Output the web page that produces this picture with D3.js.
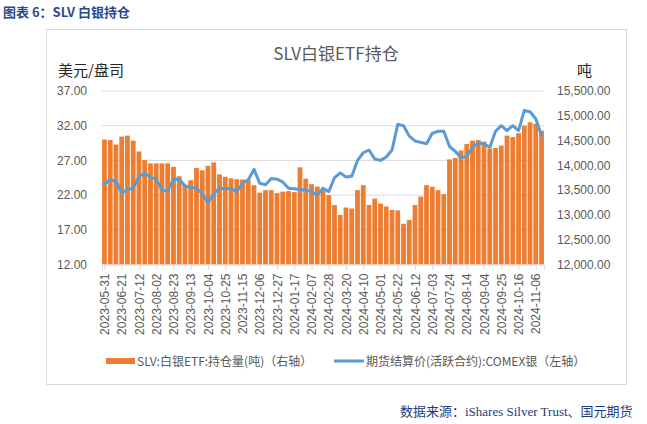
<!DOCTYPE html>
<html>
<head>
<meta charset="utf-8">
<script src="https://cdn.jsdelivr.net/npm/d3@7"></script>
<style>
  body { margin: 0; background: #fff; }
  svg { display: block; font-family: "Liberation Sans", "Noto Sans CJK SC", sans-serif; }
</style>
</head>
<body>
<svg width="647" height="424"></svg>
<script>
// weekly readings, first week = 2023-05-31
const startDate = new Date(2023, 4, 31);

// SLV holdings (tonnes), right axis
const holdings = [
  14520, 14510, 14420, 14580, 14600, 14500, 14280, 14110, 14040, 14040,
  14040, 14040, 13970, 13780, 13610, 13700, 13950, 13900, 13990, 14060,
  13820, 13770, 13740, 13720, 13715, 13705, 13600, 13450, 13500, 13500,
  13440, 13470, 13480, 13460, 13960, 13730, 13620, 13570, 13500, 13400,
  13200, 13000, 13150, 13130, 13500, 13600, 13200, 13330, 13230, 13170,
  13100, 13090, 12820, 12900, 13200, 13370, 13600, 13570, 13500, 13420,
  14120, 14150, 14300, 14430, 14500, 14510, 14480, 14340, 14350, 14400,
  14600, 14570, 14650, 14800, 14870, 14840, 14700
];

// COMEX silver settlement price (USD/oz), left axis
const price = [
  23.6, 24.2, 24.0, 22.3, 22.8, 23.0, 24.7, 25.1, 24.6, 24.3,
  22.7, 22.6, 24.3, 24.3, 23.3, 23.1, 23.0, 22.2, 20.9, 22.2,
  23.0, 22.9, 23.0, 22.5, 23.7, 24.2, 25.7, 23.7, 23.5, 24.4,
  24.3, 23.9, 23.0, 22.9, 22.8, 22.7, 22.5, 22.0, 23.0, 22.5,
  24.5, 25.2, 24.6, 24.7, 27.0, 28.1, 28.5, 27.2, 27.0, 27.5,
  28.5, 32.2, 32.0, 30.5, 29.8, 29.6, 29.4, 30.9, 31.2, 31.2,
  29.0, 28.3, 27.4, 27.6, 28.9, 29.5, 29.4, 28.9, 31.2, 32.0,
  31.3, 32.0, 31.3, 34.2, 34.0, 33.0, 30.6
];

const leftTicks = [12, 17, 22, 27, 32, 37];
const rightTicks = [12000, 12500, 13000, 13500, 14000, 14500, 15000, 15500];
const tickCount = 26;   // x labels every 21 days

const dates = holdings.map((d, i) => d3.timeDay.offset(startDate, 7 * i));
const tickDates = d3.range(tickCount).map(i => d3.timeDay.offset(startDate, 21 * i));

const svg = d3.select("svg");
const plot = { left: 102, right: 544, top: 91, bottom: 264.5 };
const grey = "#595959";

const x = d3.scaleTime()
  .domain([d3.timeDay.offset(startDate, -3), d3.timeDay.offset(startDate, 535)])
  .range([plot.left, plot.right]);
const yL = d3.scaleLinear().domain([12, 37]).range([plot.bottom, plot.top]);
const yR = d3.scaleLinear().domain([12000, 15500]).range([plot.bottom, plot.top]);

// header + frame
svg.append("text").attr("x", 3).attr("y", 17)
  .attr("font-family", "Noto Sans CJK SC").attr("font-weight", "bold")
  .attr("font-size", 13).attr("fill", "#2b4a8b").text("图表 6：SLV 白银持仓");

svg.append("rect").attr("x", 46.5).attr("y", 29.5).attr("width", 580).attr("height", 355)
  .attr("fill", "none").attr("stroke", "#d9d9d9");

svg.append("text").attr("x", 336).attr("y", 60).attr("text-anchor", "middle")
  .attr("font-family", "Noto Sans CJK SC").attr("font-size", 17).attr("fill", grey)
  .text("SLV白银ETF持仓");

svg.append("text").attr("x", 58).attr("y", 76).attr("font-family", "Noto Sans CJK SC")
  .attr("font-size", 15).attr("fill", "#262626").text("美元/盘司");
svg.append("text").attr("x", 577).attr("y", 76).attr("font-family", "Noto Sans CJK SC")
  .attr("font-size", 15).attr("fill", "#262626").text("吨");

// gridlines
svg.append("g").selectAll("line").data(leftTicks.slice(1)).enter().append("line")
  .attr("x1", plot.left).attr("x2", plot.right)
  .attr("y1", d => yL(d)).attr("y2", d => yL(d))
  .attr("stroke", "#d9d9d9").attr("stroke-width", 1);

// left axis
const leftAxis = svg.append("g").attr("transform", `translate(${plot.left},0)`)
  .call(d3.axisLeft(yL).tickValues(leftTicks).tickFormat(d3.format(".2f")).tickSize(0).tickPadding(15));
leftAxis.select(".domain").remove();
leftAxis.selectAll("text").attr("font-size", 12).attr("fill", grey);

// right axis
const rightAxis = svg.append("g").attr("transform", `translate(${plot.right},0)`)
  .call(d3.axisRight(yR).tickValues(rightTicks).tickFormat(d3.format(",.2f")).tickSize(0).tickPadding(13));
rightAxis.select(".domain").remove();
rightAxis.selectAll("text").attr("font-size", 12).attr("fill", grey);

// bars
const barW = 4.8;
svg.append("g").selectAll("rect").data(holdings).enter().append("rect")
  .attr("x", (d, i) => x(dates[i]) - barW / 2)
  .attr("y", d => yR(d))
  .attr("width", barW)
  .attr("height", d => plot.bottom - yR(d))
  .attr("fill", "#ed7d31");

// x axis
const xAxis = svg.append("g").attr("transform", `translate(0,${plot.bottom})`)
  .call(d3.axisBottom(x).tickValues(tickDates).tickFormat(d3.timeFormat("%Y-%m-%d")).tickSizeOuter(0).tickSize(5));
xAxis.select(".domain").attr("stroke", "#d9d9d9");
xAxis.selectAll(".tick line").attr("stroke", "#d9d9d9");
xAxis.selectAll("text")
  .attr("font-size", 12).attr("fill", grey)
  .attr("transform", "rotate(-90)")
  .attr("text-anchor", "end")
  .attr("x", -9).attr("y", 0).attr("dy", "0.35em");

// price line
const line = d3.line().x((d, i) => x(dates[i])).y(d => yL(d)).curve(d3.curveLinear);
svg.append("path").datum(price).attr("d", line)
  .attr("fill", "none").attr("stroke", "#5b9bd5").attr("stroke-width", 3)
  .attr("stroke-linejoin", "round").attr("stroke-linecap", "round");

// legend
const lg = svg.append("g").attr("font-family", "Noto Sans CJK SC").attr("font-size", 12).attr("fill", grey);
lg.append("rect").attr("x", 106).attr("y", 358).attr("width", 29).attr("height", 6).attr("fill", "#ed7d31");
lg.append("text").attr("x", 137).attr("y", 365.5).text("SLV:白银ETF:持仓量(吨)（右轴）");
lg.append("line").attr("x1", 334).attr("x2", 364).attr("y1", 361).attr("y2", 361)
  .attr("stroke", "#5b9bd5").attr("stroke-width", 3);
lg.append("text").attr("x", 366).attr("y", 365.5).text("期货结算价(活跃合约):COMEX银（左轴）");

// source
svg.append("text").attr("x", 400).attr("y", 416)
  .attr("font-family", "Liberation Serif, Noto Sans CJK SC").attr("font-size", 13)
  .attr("fill", "#1f3a7a").text("数据来源：iShares Silver Trust、国元期货");
</script>
</body>
</html>
